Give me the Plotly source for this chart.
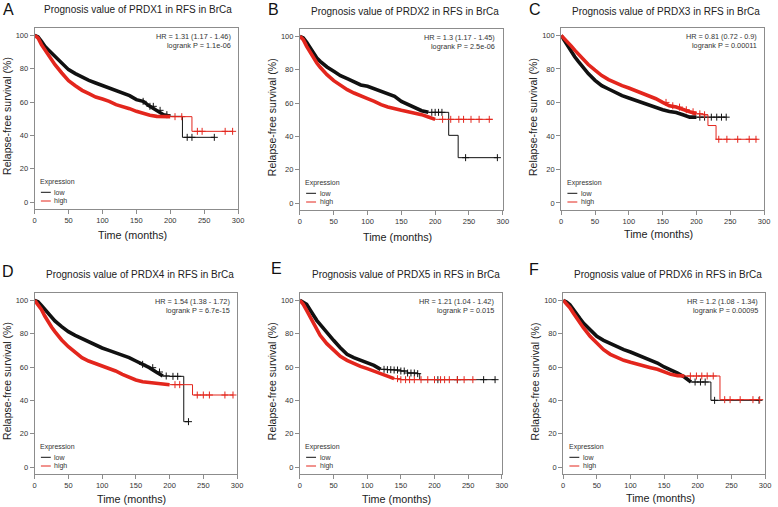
import numpy as np
import plotly.graph_objects as go

W, H = 778, 507
BLACK = "#111111"
RED = "#e3261d"
FONT = "Liberation Sans, Arial, sans-serif"

letters = ["A", "B", "C", "D", "E", "F"]
genes = ["PRDX1", "PRDX2", "PRDX3", "PRDX4", "PRDX5", "PRDX6"]
hr_text = ["HR = 1.31 (1.17 - 1.46)", "HR = 1.3 (1.17 - 1.45)", "HR = 0.81 (0.72 - 0.9)",
           "HR = 1.54 (1.38 - 1.72)", "HR = 1.21 (1.04 - 1.42)", "HR = 1.2 (1.08 - 1.34)"]
p_text = ["logrank P = 1.1e-06", "logrank P = 2.5e-06", "logrank P = 0.00011",
          "logrank P = 6.7e-15", "logrank P = 0.015", "logrank P = 0.00095"]

x_ticks = [0, 50, 100, 150, 200, 250, 300]
y_ticks = [0, 20, 40, 60, 80, 100]

T24 = [0, 5, 10, 15, 20, 25, 30, 40, 50, 60, 70, 80, 90, 100, 110, 120, 130, 140, 150, 160, 170, 180, 190, 200]

# ---- PRDX1
a_low_t = T24 + [218, 265]
a_low_s = [100, 99, 96.4, 93.4, 91.4, 89.4, 87, 82.8, 79.4, 77, 74.8, 73, 71.4, 69.8, 68.4, 67, 65.4, 63.8,
           61.4, 60.4, 57.4, 55, 52.4, 51.4, 38.8, 38.8]
a_low_dense = 200
a_low_cens = [160, 170, 175, 185, 195, 225, 232, 265]
a_high_t = T24 + [232, 292]
a_high_s = [100, 98.4, 94.4, 91.4, 87.8, 85, 82.4, 77.4, 72.8, 69.8, 67, 65, 63, 61.8, 60.4, 58.4, 57.4, 56,
            54.4, 53, 52, 51.4, 51.2, 51.2, 42.4, 42.4]
a_high_dense = 200
a_high_cens = [207, 217, 240, 247, 281, 292]

# ---- PRDX2
b_low_t = T24 + [220, 234, 292]
b_low_s = [100, 99, 96.4, 93, 90, 87, 85, 81.6, 79, 76.4, 74.6, 72.4, 70.8, 70, 68.4, 67, 65.4, 64,
           61, 59, 57, 55.4, 54.4, 54.4, 40.6, 27.2, 27.2]
b_low_dense = 190
b_low_cens = [195, 200, 205, 210, 245, 292]
b_high_t = T24 + [285]
b_high_s = [100, 98, 94, 90.4, 87, 84, 81.4, 77, 73.4, 70.4, 68, 66, 64, 62.6, 61, 59, 57.6, 56.4,
            55.6, 54.8, 54, 53, 51.6, 50.2, 50.2]
b_high_dense = 200
b_high_cens = [211, 223, 235, 242, 253, 265, 280]

# ---- PRDX3
c_low_t = T24 + [244]
c_low_s = [100, 96.6, 93.6, 90, 87.2, 84.6, 82, 77.2, 73.2, 70, 68, 66, 64, 62.6, 61.2, 59.6, 58, 56.6,
           55.6, 54.6, 54, 52.6, 51.2, 51.2, 51.2]
c_low_dense = 200
c_low_cens = [205, 212, 222, 230, 237, 244]
c_high_t = T24 + [210, 217, 229, 290]
c_high_s = [100, 98, 96, 93.6, 91.2, 89, 86.6, 82.6, 79.2, 76, 73.6, 71.6, 70, 68.6, 67, 65.2, 63.6, 62.2,
            60, 58, 57.2, 55.6, 54.4, 53.2, 52.6, 46.2, 38, 38]
c_high_dense = 200
c_high_cens = [155, 165, 175, 185, 195, 205, 212, 233, 245, 261, 278, 288]

# ---- PRDX4
d_low_t = T24 + [221, 228]
d_low_s = [100, 99.2, 97, 94.6, 92, 89.6, 87.6, 84.2, 81.2, 79, 77, 75, 73, 71.4, 70, 68.6, 67, 65.6,
           63.6, 61.6, 59.6, 57, 54.6, 54.4, 27.2, 27.2]
d_low_dense = 190
d_low_cens = [160, 175, 185, 195, 205, 212, 228]
d_high_t = T24 + [234, 294]
d_high_s = [100, 97.6, 94.6, 90.6, 87, 84, 81.2, 76.2, 72.2, 68.6, 65.6, 63.6, 62.2, 60.6, 59, 57.6, 55.6, 54,
            52.2, 51.2, 50.6, 50.2, 49.8, 49.4, 43.2, 43.2]
d_high_dense = 200
d_high_cens = [208, 215, 241, 250, 259, 282, 294]

# ---- PRDX5
e_low_t = [0, 5, 10, 15, 20, 25, 30, 40, 50, 60, 70, 80, 90, 100, 110, 120, 130, 140, 150, 160, 175, 178, 290]
e_low_s = [100, 99, 97.6, 94.4, 91, 88, 85.6, 80.4, 76, 71.6, 67.6, 65.6, 64, 62.4, 61, 58.6, 58.4, 58.2,
           57.6, 56.4, 56, 52.4, 52.4]
e_low_dense = 120
e_low_cens = [125, 130, 135, 140, 145, 150, 155, 160, 165, 170, 175, 205, 234, 273, 290]
e_high_t = [0, 5, 10, 15, 20, 25, 30, 40, 50, 60, 70, 80, 90, 100, 110, 120, 130, 140, 150, 257]
e_high_s = [100, 97.6, 94, 90, 86, 82.4, 79, 74, 70, 66.4, 64, 62, 60.4, 59, 57.6, 56, 54.4, 53, 52.4, 52.4]
e_high_dense = 140
e_high_cens = [145, 150, 157, 163, 170, 180, 190, 200, 209, 215, 222, 234, 244, 257]

# ---- PRDX6
f_low_t = [0, 5, 10, 15, 20, 25, 30, 40, 50, 60, 70, 80, 90, 100, 110, 120, 130, 140, 150, 160, 170, 180, 190,
           219.5, 291]
f_low_s = [100, 99, 97.4, 94.4, 91.6, 89, 86.4, 82, 78.4, 76, 74, 72, 70.4, 69, 67.4, 66, 64.4, 62.4,
           60, 58.4, 56.4, 54, 51, 40, 40]
f_low_dense = 190
f_low_cens = [196, 204, 211, 225, 291]
f_high_t = [0, 5, 10, 15, 20, 25, 30, 40, 50, 60, 70, 80, 90, 100, 110, 120, 130, 140, 150, 160, 170, 180,
            233, 292]
f_high_s = [100, 98, 95.6, 92.4, 89.4, 86.4, 83.6, 78.4, 74.4, 70.4, 67.6, 65.6, 64, 62.8, 61.6, 60.6, 59.6,
            58.6, 57, 55.6, 54.8, 54.6, 40.4, 40.4]
f_high_dense = 180
f_high_cens = [189, 198, 206, 214, 223, 240, 248, 263, 282, 292]

panels = [
    ((a_low_t, a_low_s, a_low_dense, a_low_cens), (a_high_t, a_high_s, a_high_dense, a_high_cens)),
    ((b_low_t, b_low_s, b_low_dense, b_low_cens), (b_high_t, b_high_s, b_high_dense, b_high_cens)),
    ((c_low_t, c_low_s, c_low_dense, c_low_cens), (c_high_t, c_high_s, c_high_dense, c_high_cens)),
    ((d_low_t, d_low_s, d_low_dense, d_low_cens), (d_high_t, d_high_s, d_high_dense, d_high_cens)),
    ((e_low_t, e_low_s, e_low_dense, e_low_cens), (e_high_t, e_high_s, e_high_dense, e_high_cens)),
    ((f_low_t, f_low_s, f_low_dense, f_low_cens), (f_high_t, f_high_s, f_high_dense, f_high_cens)),
]

# plot boxes in pixels: left, right, top, bottom
boxes = [(33, 238.5, 28, 209), (301, 506, 29, 210), (565, 770, 28, 210),
         (33, 237.5, 293, 474), (301, 505, 293, 474), (567, 771, 293, 474)]
letter_pos = [(6.7, 9.5), (274.5, 9.5), (538.5, 9.5), (6, 271), (277.5, 268), (538, 269.5)]
title_pos = [(137.5, 9.5), (407, 11), (671, 11), (139.5, 274), (408, 274), (673, 274)]
xtitle_y = [235, 237, 234, 499, 499, 498]


def px(x):
    return x / W


def py(y):
    return 1 - y / H


fig = go.Figure()
annotations = []
shapes = []

for i, ((low, high), box) in enumerate(zip(panels, boxes)):
    k = "" if i == 0 else str(i + 1)
    xa, ya = "x" + k, "y" + k
    for (t, s, dense_end, cens), col in ((low, BLACK), (high, RED)):
        t = np.array(t, dtype=float)
        s = np.array(s, dtype=float)
        dm = t <= dense_end
        tm = t >= dense_end
        # thin step tail
        fig.add_trace(go.Scatter(x=t[tm], y=s[tm], mode="lines", line=dict(color=col, width=1, shape="hv"),
                                 xaxis=xa, yaxis=ya, showlegend=False, hoverinfo="skip"))
        # dense band (many overlapping censor marks)
        fig.add_trace(go.Scatter(x=t[dm], y=s[dm], mode="lines",
                                 line=dict(color=col, width=3.6),
                                 xaxis=xa, yaxis=ya, showlegend=False, hoverinfo="skip"))
        # individual censor marks
        c = np.array(cens, dtype=float)
        idx = np.searchsorted(t, c, side="right") - 1
        fig.add_trace(go.Scatter(x=c, y=s[idx], mode="markers",
                                 marker=dict(symbol="cross-thin", size=5, line=dict(color=col, width=1)),
                                 xaxis=xa, yaxis=ya, showlegend=False, hoverinfo="skip"))

    L, R, T, B = box
    axis_common = dict(showline=True, mirror=True, linecolor="#8c8c8c", linewidth=1, ticks="outside",
                       ticklen=4, tickcolor="#8c8c8c", tickwidth=1, showgrid=False, zeroline=False,
                       tickfont=dict(family=FONT, size=7.5, color="#333333"))
    fig.update_layout(**{
        ("xaxis" + k): dict(domain=[px(L), px(R)], range=[0, 300], tickvals=x_ticks, anchor=ya, **axis_common),
        ("yaxis" + k): dict(domain=[py(B), py(T)], range=[-4.2, 104.4], tickvals=y_ticks, anchor=xa,
                            **axis_common),
    })

    lx, ly = letter_pos[i]
    annotations.append(dict(x=px(lx), y=py(ly), xref="paper", yref="paper", text=letters[i], showarrow=False,
                            xanchor="center", yanchor="middle", font=dict(family=FONT, size=16, color="#111")))
    tx, ty = title_pos[i]
    annotations.append(dict(x=px(tx), y=py(ty), xref="paper", yref="paper",
                            text=f"Prognosis value of {genes[i]} in RFS in BrCa", showarrow=False,
                            xanchor="center", yanchor="middle", font=dict(family=FONT, size=10, color="#222")))
    annotations.append(dict(x=px((L + R) / 2 - 4), y=py(xtitle_y[i]), xref="paper", yref="paper",
                            text="Time (months)", showarrow=False, xanchor="center", yanchor="middle",
                            font=dict(family=FONT, size=10.8, color="#222")))
    annotations.append(dict(x=px(L - 28), y=py((T + B) / 2 - 2.5), xref="paper", yref="paper",
                            text="Relapse-free survival (%)", showarrow=False, textangle=-90,
                            xanchor="center", yanchor="middle", font=dict(family=FONT, size=10.5, color="#222")))
    annotations.append(dict(x=px(R - 5.5), y=py(T + 8.7), xref="paper", yref="paper", text=hr_text[i],
                            showarrow=False, xanchor="right", yanchor="middle",
                            font=dict(family=FONT, size=7.3, color="#333")))
    annotations.append(dict(x=px(R - 5.5), y=py(T + 17.5), xref="paper", yref="paper", text=p_text[i],
                            showarrow=False, xanchor="right", yanchor="middle",
                            font=dict(family=FONT, size=7.3, color="#333")))
    annotations.append(dict(x=px(L + 3.5), y=py(B - 27), xref="paper", yref="paper", text="Expression",
                            showarrow=False, xanchor="left", yanchor="middle",
                            font=dict(family=FONT, size=7, color="#333")))
    for j, (lab, col) in enumerate((("low", BLACK), ("high", RED))):
        yy = B - 16.7 + j * 8.7
        annotations.append(dict(x=px(L + 18), y=py(yy), xref="paper", yref="paper", text=lab,
                                showarrow=False, xanchor="left", yanchor="middle",
                                font=dict(family=FONT, size=7, color="#333")))
        shapes.append(dict(type="line", xref="paper", yref="paper", x0=px(L + 6.3), x1=px(L + 16.3),
                           y0=py(yy), y1=py(yy), line=dict(color=col, width=1)))

fig.update_layout(width=W, height=H, margin=dict(l=0, r=0, t=0, b=0), paper_bgcolor="white",
                  plot_bgcolor="white", annotations=annotations, shapes=shapes, showlegend=False)
fig.write_html("out.html", config={"displayModeBar": False},
               post_script="document.body.style.margin='0px';document.body.style.padding='0px';")
